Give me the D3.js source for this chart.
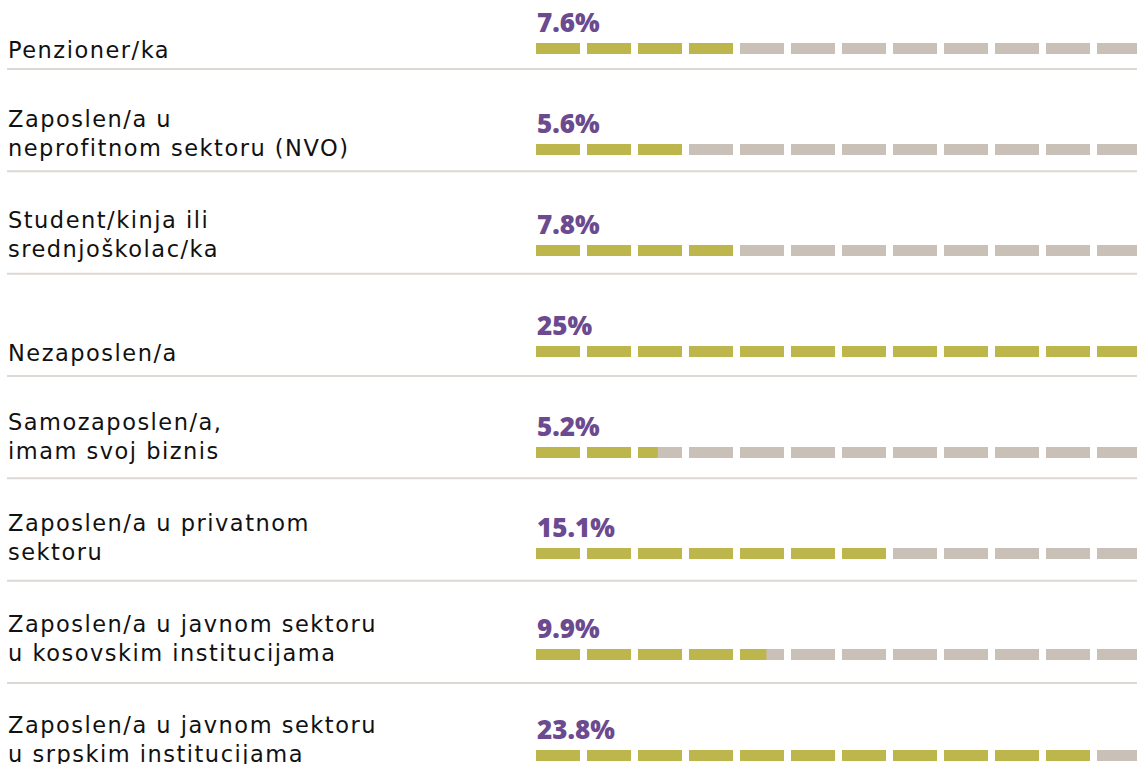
<!DOCTYPE html>
<html>
<head>
<meta charset="utf-8">
<script src="https://cdn.jsdelivr.net/npm/d3@7"></script>
<style>
  html, body { margin: 0; padding: 0; background: #ffffff; overflow: hidden; }
  svg { display: block; }
</style>
</head>
<body>
<svg id="chart" width="1137" height="764"></svg>
<script>
// ---- data ----
const categories = [
  "Penzioner/ka",
  "Zaposlen/a u neprofitnom sektoru (NVO)",
  "Student/kinja ili srednjoškolac/ka",
  "Nezaposlen/a",
  "Samozaposlen/a, imam svoj biznis",
  "Zaposlen/a u privatnom sektoru",
  "Zaposlen/a u javnom sektoru u kosovskim institucijama",
  "Zaposlen/a u javnom sektoru u srpskim institucijama"
];
const labelLines = [
  ["Penzioner/ka"],
  ["Zaposlen/a u", "neprofitnom sektoru (NVO)"],
  ["Student/kinja ili", "srednjoškolac/ka"],
  ["Nezaposlen/a"],
  ["Samozaposlen/a,", "imam svoj biznis"],
  ["Zaposlen/a u privatnom", "sektoru"],
  ["Zaposlen/a u javnom sektoru", "u kosovskim institucijama"],
  ["Zaposlen/a u javnom sektoru", "u srpskim institucijama"]
];
const values = [7.6, 5.6, 7.8, 25, 5.2, 15.1, 9.9, 23.8];
const valueLabels = ["7.6%", "5.6%", "7.8%", "25%", "5.2%", "15.1%", "9.9%", "23.8%"];
// number of filled segments as drawn in the picture (out of 12)
const filledSegments = [4, 3, 4, 12, 2.45, 7, 4.6, 11];
const segmentCount = 12;

// ---- styles ----
const colFill = "#bcb64d";
const colEmpty = "#c9c1b7";
const colValue = "#6b4a8f";
const colRule = "#ddd8d3";
const colLabel = "#111111";

const svg = d3.select("#chart");

// scales
const xSeg = d3.scaleLinear().domain([0, segmentCount]).range([536, 536 + segmentCount * 51]);
const segW = 44;
const yBar = d3.scalePoint().domain(categories).range([43, 750]);
const barH = 11;
const ySep = d3.scaleLinear().domain([0, categories.length - 2]).range([69, 683]);

// separators
svg.append("g").selectAll("line")
  .data(d3.range(categories.length - 1))
  .join("line")
  .attr("x1", 7).attr("x2", 1137)
  .attr("y1", d => ySep(d)).attr("y2", d => ySep(d))
  .attr("stroke", colRule).attr("stroke-width", 2);

const rows = svg.append("g").selectAll("g.row")
  .data(categories.map((c, i) => ({
    cat: c, idx: i, lines: labelLines[i], value: values[i], label: valueLabels[i], filled: filledSegments[i]
  })))
  .join("g").attr("class", "row");

// segments
rows.each(function(d) {
  const g = d3.select(this);
  const y = yBar(d.cat);
  const segs = d3.range(segmentCount);
  g.selectAll("rect.bg").data(segs).join("rect").attr("class", "bg")
    .attr("x", i => xSeg(i)).attr("y", y)
    .attr("width", segW).attr("height", barH)
    .attr("fill", colEmpty);
  g.selectAll("rect.fg").data(segs.filter(i => d.filled - i > 0)).join("rect").attr("class", "fg")
    .attr("x", i => xSeg(i)).attr("y", y)
    .attr("width", i => segW * Math.min(1, d.filled - i)).attr("height", barH)
    .attr("fill", colFill);
});

// value labels
rows.append("text")
  .attr("x", xSeg(0) + 1)
  .attr("y", d => yBar(d.cat) - 11)
  .attr("font-family", "'Open Sans', 'DejaVu Sans', sans-serif")
  .attr("font-weight", 800)
  .attr("font-size", 26)
  .attr("fill", colValue)
  .text(d => d.label);

// category labels
rows.each(function(d) {
  const g = d3.select(this);
  const n = d.lines.length;
  const last = yBar(d.cat) + barH + (n === 1 ? 4 : 1);
  g.selectAll("text.cat").data(d.lines).join("text").attr("class", "cat")
    .attr("x", 8)
    .attr("y", (t, j) => last - (n - 1 - j) * 29)
    .attr("font-family", "'DejaVu Sans', sans-serif")
    .attr("font-size", 22.5)
    .attr("letter-spacing", 1.5)
    .attr("fill", colLabel)
    .text(t => t);
});
</script>
</body>
</html>
